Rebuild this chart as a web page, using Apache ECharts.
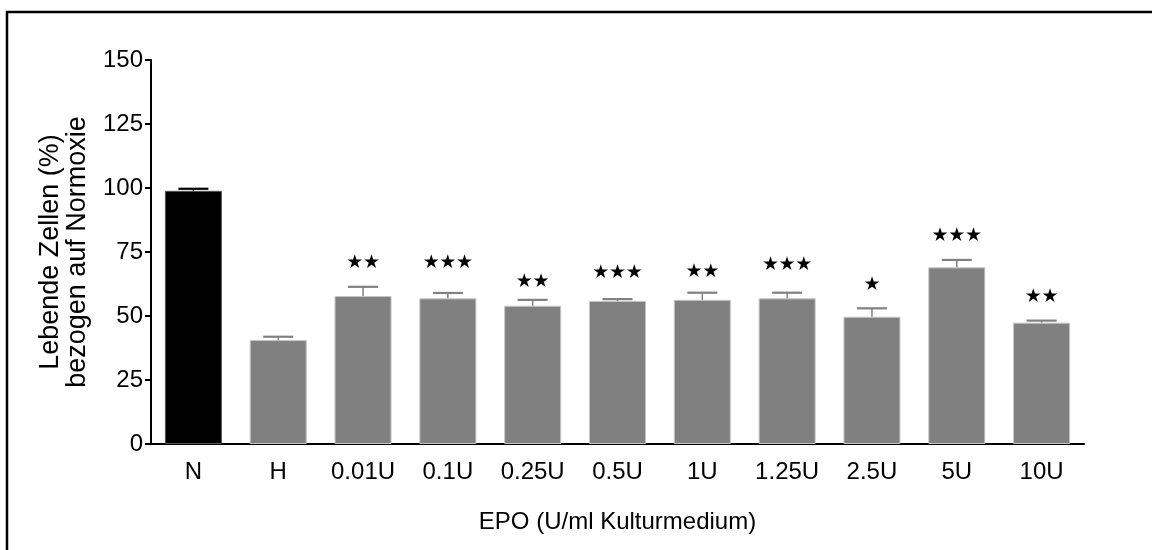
<!DOCTYPE html>
<html>
<head>
<meta charset="utf-8">
<script src="https://cdn.jsdelivr.net/npm/echarts@6/dist/echarts.min.js"></script>
<style>
  html, body { margin: 0; padding: 0; background: #fff; }
  #main { width: 1152px; height: 550px; }
</style>
</head>
<body>
<div id="main"></div>
<script>
// 分组
var categories = ['N', 'H', '0.01U', '0.1U', '0.25U', '0.5U', '1U', '1.25U', '2.5U', '5U', '10U'];
// 均值 (%)
var means = [98.9, 40.6, 57.8, 56.9, 54.0, 55.9, 56.3, 56.9, 49.7, 69.0, 47.4];
// 误差 (上方)
var errors = [0.8, 1.3, 3.6, 2.1, 2.3, 0.7, 2.8, 2.2, 3.3, 2.9, 0.8];
// 显著性星号数量
var starCount = [0, 0, 2, 3, 2, 3, 2, 3, 1, 3, 2];
// 星号所在的纵坐标值
var starLevel = [0, 0, 70.8, 70.7, 63.3, 66.7, 67.3, 69.9, 62.1, 81.4, 57.5];
var yTicks = [0, 25, 50, 75, 100, 125, 150];

var myChart = echarts.init(document.getElementById('main'));

var FONT = '"Liberation Sans", Arial, sans-serif';

var barData = means.map(function (v, i) {
  var black = i === 0;
  return {
    value: v,
    itemStyle: {
      color: black ? '#000000' : '#808080',
      borderColor: black ? '#555555' : '#c4c4c4',
      borderWidth: 1
    }
  };
});

var errData = means.map(function (v, i) {
  return [i, v, v + errors[i], starCount[i], starLevel[i]];
});

function renderErr(params, api) {
  var idx = api.value(0);
  var base = api.coord([idx, api.value(1)]);
  var top = api.coord([idx, api.value(2)]);
  var col = idx === 0 ? '#000000' : '#808080';
  var children = [
    {
      type: 'line',
      shape: { x1: base[0], y1: base[1], x2: top[0], y2: top[1] },
      style: { stroke: col, lineWidth: 1.5 }
    },
    {
      type: 'line',
      shape: { x1: top[0] - 15, y1: top[1], x2: top[0] + 15, y2: top[1] },
      style: { stroke: col, lineWidth: 2.2 }
    }
  ];
  var n = api.value(3);
  if (n > 0) {
    var sp = api.coord([idx, api.value(4)]);
    for (var k = 0; k < n; k++) {
      children.push({
        type: 'text',
        x: sp[0] + (k - (n - 1) / 2) * 16.7,
        y: sp[1],
        style: {
          text: '★',
          fill: '#000',
          font: '19px "DejaVu Sans"',
          align: 'center',
          verticalAlign: 'middle'
        }
      });
    }
  }
  return { type: 'group', children: children };
}

var option = {
  animation: false,
  backgroundColor: '#ffffff',
  graphic: [{
    type: 'polyline',
    shape: { points: [[7, 560], [7, 12], [1160, 12]] },
    style: { stroke: '#000', lineWidth: 2.5, fill: null }
  }],
  grid: {
    left: 151,
    right: 68,
    top: 60,
    bottom: 106
  },
  xAxis: {
    type: 'category',
    data: categories,
    name: 'EPO (U/ml Kulturmedium)',
    nameLocation: 'middle',
    nameGap: 66,
    nameTextStyle: { color: '#000', fontSize: 24, fontFamily: FONT },
    axisLine: { lineStyle: { color: '#000', width: 2 } },
    axisTick: { show: false },
    axisLabel: { color: '#000', fontSize: 24, fontFamily: FONT, margin: 16 },
    splitLine: { show: false }
  },
  yAxis: {
    type: 'value',
    min: 0,
    max: 150,
    interval: 25,
    name: 'Lebende Zellen (%)\nbezogen auf Normoxie',
    nameLocation: 'middle',
    nameGap: 60,
    nameRotate: 90,
    nameTextStyle: { color: '#000', fontSize: 27, fontFamily: FONT, lineHeight: 27 },
    axisLine: { show: true, lineStyle: { color: '#000', width: 2 } },
    axisTick: { show: true, length: 6, lineStyle: { color: '#000', width: 2 } },
    axisLabel: {
      color: '#000', fontSize: 24, fontFamily: FONT, margin: 8,
      formatter: function (v) { return yTicks.indexOf(v) >= 0 ? String(v) : ''; }
    },
    splitLine: { show: false }
  },
  series: [
    {
      type: 'bar',
      data: barData,
      barWidth: 57
    },
    {
      type: 'custom',
      renderItem: renderErr,
      data: errData,
      encode: { x: 0, y: [1, 2] },
      z: 3
    }
  ]
};

myChart.setOption(option);
</script>
</body>
</html>
